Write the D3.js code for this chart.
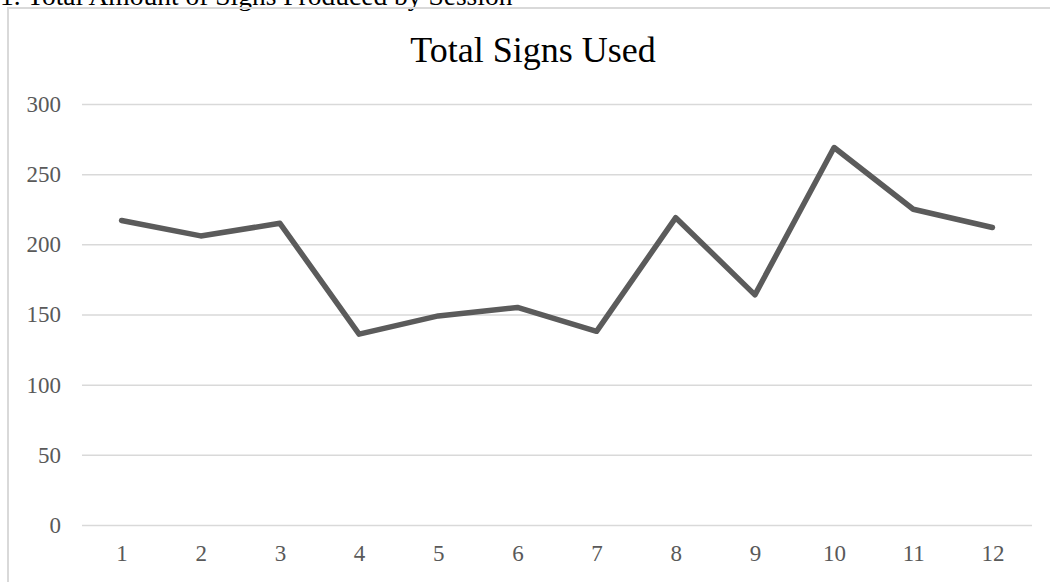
<!DOCTYPE html>
<html>
<head>
<meta charset="utf-8">
<script src="https://cdn.jsdelivr.net/npm/d3@7"></script>
<style>
  body { margin: 0; background: #fff; }
  svg { display: block; font-family: "Liberation Serif", "Times New Roman", serif; }
</style>
</head>
<body>
<div id="chart"></div>
<script>
var sessions = ["1", "2", "3", "4", "5", "6", "7", "8", "9", "10", "11", "12"];
var signsUsed = [217, 206, 215, 136, 149, 155, 138, 219, 164, 269, 225, 212];
var yTicks = [0, 50, 100, 150, 200, 250, 300];

var W = 1050, H = 582;
var margin = {top: 104, right: 18, bottom: 57, left: 82},
    width = W - margin.left - margin.right,
    height = H - margin.top - margin.bottom;

var svg = d3.select("#chart")
  .append("svg")
    .attr("width", W)
    .attr("height", H);

// caption above the chart box (cut off at the top, as in the source)
svg.append("text")
    .attr("x", 0)
    .attr("y", 5)
    .style("font-size", "27.5px")
    .style("fill", "#000")
    .text("1. Total Amount of Signs Produced by Session");

// chart box border
svg.append("path")
    .attr("d", "M8," + (H + 5) + "V8H" + (W + 5))
    .attr("fill", "none")
    .attr("stroke", "#d9d9d9")
    .attr("stroke-width", 2);

// title
svg.append("text")
    .attr("x", 533)
    .attr("y", 62)
    .style("font-size", "36px")
    .style("fill", "#000")
    .style("text-anchor", "middle")
    .text("Total Signs Used");

var g = svg.append("g")
    .attr("transform", "translate(" + margin.left + "," + margin.top + ")");

var x = d3.scalePoint()
    .domain(sessions)
    .range([0, width])
    .padding(0.5);

var y = d3.scaleLinear()
    .domain([0, 300])
    .range([height, 0]);

// y axis + gridlines
var yAxis = g.append("g")
    .call(d3.axisLeft(y).tickValues(yTicks).tickSize(-width).tickPadding(21));
yAxis.select(".domain").remove();
yAxis.selectAll(".tick line")
    .attr("stroke", "#d9d9d9")
    .attr("stroke-width", 1.5);
yAxis.selectAll(".tick text")
    .style("font-family", "Liberation Serif, Times New Roman, serif")
    .style("font-size", "23px")
    .style("fill", "#595959");

// x axis
var xAxis = g.append("g")
    .attr("transform", "translate(0," + height + ")")
    .call(d3.axisBottom(x).tickSize(0).tickPadding(20));
xAxis.select(".domain").remove();
xAxis.selectAll(".tick text")
    .style("font-family", "Liberation Serif, Times New Roman, serif")
    .style("font-size", "23px")
    .style("fill", "#595959");

// line
var line = d3.line()
    .x(function(d, i) { return x(sessions[i]); })
    .y(function(d) { return y(d); });

g.append("path")
    .datum(signsUsed)
    .attr("d", line)
    .attr("fill", "none")
    .attr("stroke", "#5b5b5b")
    .attr("stroke-width", 5.5)
    .attr("stroke-linejoin", "round")
    .attr("stroke-linecap", "round");
</script>
</body>
</html>
